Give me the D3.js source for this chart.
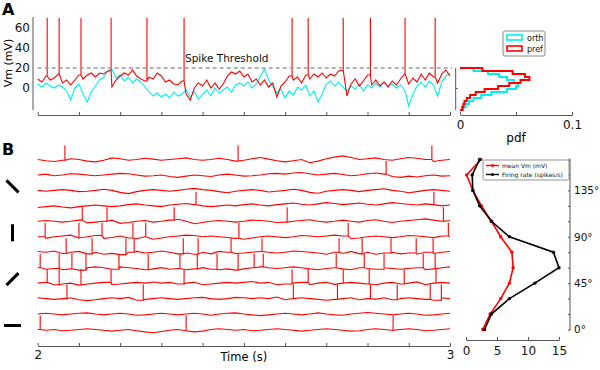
<!DOCTYPE html>
<html><head><meta charset="utf-8">
<script src="https://cdn.jsdelivr.net/npm/d3@7"></script>
<style>body{margin:0;background:#fff}svg{display:block;font-family:"DejaVu Sans",sans-serif}</style>
</head><body><svg id="c" width="600" height="370"></svg>
<script>
// ---------- Panel A data (time 0..1 s, 101 samples) ----------
const vmPref = [9,6,12,8,10,14,5,8,3,8, 13,9,13,15,11,15,14,17,1,8, 12,15,13,18,12,9,7,11,9,15,
  12,6,8,4,3,7,-6,-12,0,5, 2,8,0,5,-1,4,12,16,14,17, 11,14,6,9,3,8,1,5,-9,2,
  6,12,8,11,5,13,9,14,11,15, 10,14,12,17,18,-8,4,9,2,7, 13,3,8,2,6,1,7,3,9,14,
  4,10,6,14,8,15,11,5,14,18, 12];
const vmOrth = [4,1,5,2,0,3,1,-3,-12,0, 4,-6,-14,-4,2,8,11,17,19,10, 13,7,11,5,9,6,1,-4,-8,-5,
  -9,-6,-10,-4,-8,-6,-2,-9,-4,-11, -6,-2,-8,0,-5,-2,1,-4,3,5, 2,6,0,4,12,19,8,2,-5,-1,
  -10,-3,-7,1,-2,3,-8,-3,-14,-6, 4,7,2,6,1,-3,2,-1,4,-3, 3,0,5,1,6,2,4,0,3,-2,
  -18,-6,2,6,1,7,3,-8,6,12, 15];
const spikeTimesPref = [0.023,0.052,0.105,0.178,0.265,0.355,0.617,0.656,0.741,0.807,0.891,0.964];
const spikePeakA = 70;
const thresholdMv = 20;

// histogram (pdf), bins of 3 mV from 20 down to -22
const histEdges = [20,17,14,11,8,5,2,-1,-4,-7,-10,-13,-16,-19,-22];
const pdfPref = [0.02,0.047,0.058,0.062,0.054,0.044,0.034,0.022,0.014,0.009,0.006,0.004,0.003,0.002];
const pdfOrth = [0.012,0.025,0.035,0.042,0.048,0.052,0.05,0.042,0.028,0.019,0.012,0.008,0.005,0.003];

// ---------- Panel B data ----------
const orientations = [0,15,30,45,60,75,90,105,120,135,150,165];
const meanVm =     [2.7,3.9,5.6,7.0,7.6,7.4,5.6,4.1,2.5,1.1,0.1,2.4];
const firingRate = [3.0,4.1,7.0,11.1,15.0,14.1,7.0,4.1,2.2,1.1,1.0,2.2];

// traces: deviation from rest (mV), 51 samples from 2 s to 3 s
const restB = -60;
const spikePeakB = 35;
const dvB165 = [0,-3,-5,-2,2,0,-4,-6,-2,4, 2,-2,0,3,1,-2,0,2,4,0, -2,0,3,0,-4,-2,2,5,1,-3, -6,-3,0,-8,-4,2,6,9,5,0, 2,4,0,-2,2,5,3,0,-5,-2, 0];
const dvB150 = [0,2,-2,0,3,2,0,-2,0,2, 4,3,0,-3,-2,0,-4,-6,-3,0, -2,-4,0,2,0,-3,-2,0,3,4, 2,5,6,3,0,2,4,1,-2,0, 3,5,2,-4,-6,-3,-5,-2,0,-3, -2];
const dvB135 = [0,-2,0,2,0,-3,-2,0,3,0, -5,-8,-3,0,2,0,-2,0,3,5, 2,0,-3,-6,-2,0,2,0,-4,-2, 0,3,0,-5,-7,-2,0,2,0,-3, 0,2,4,0,-2,-6,-3,0,2,0, -2];
const dvB120 = [-4,-2,0,-3,-5,-2,0,2,0,-2, 0,3,5,2,0,-2,2,4,6,3, 0,-2,0,2,0,3,5,2,0,3, 5,7,4,2,5,8,6,3,5,7, 4,2,5,8,6,4,2,5,3,0, 2];
const dvB105 = [0,2,0,-2,0,3,-4,-2,0,3, -5,-3,0,2,-2,0,3,5,0,-6, -3,0,2,0,-2,0,3,2,0,-3, -2,0,2,4,0,-2,0,3,0,-2, 2,4,0,-3,0,2,4,6,3,0, 2];
const dvB90  = [0,-4,0,2,4,-3,0,3,-4,-2, 2,-3,-5,0,-6,-3,0,2,4,3, 0,2,0,-2,-4,-6,-3,0,2,0, -2,0,3,2,0,2,4,2,-5,-3, 0,2,0,-2,0,3,2,0,-2,2, 0];
const dvB75  = [2,0,3,-3,0,2,-4,0,-5,-3, -6,0,2,-2,0,3,0,-4,-2,-5, 0,-4,2,0,-3,-2,0,2,0,-2, 0,3,2,0,-2,-5,0,-3,2,-4, 0,-5,-2,0,-4,-2,-5,0,-3,0, 2];
const dvB60  = [0,-4,-2,-5,-3,-6,0,2,0,-4, 2,0,-2,-5,-3,0,-4,-2,-5,-3, 0,-4,-5,-3,-6,-3,0,2,0,-2, 0,2,0,-3,-5,-2,0,-3,-5,0, -2,-4,0,-2,-4,-2,0,-5,-3,0, 2];
const dvB45  = [0,2,-4,-2,0,-5,-2,0,2,-4, -2,0,2,0,3,0,2,-2,0,2, -4,-2,0,2,0,2,4,0,2,-4, -2,0,2,-4,0,2,-3,0,2,0, -2,-4,0,2,-2,0,3,-4,0,2, 0];
const dvB30  = [2,0,-2,0,2,-3,-5,-3,0,2, 0,3,-4,-2,0,2,0,-2,0,2, 3,0,-2,0,3,2,0,2,0,4, -3,0,2,0,-2,-4,-2,0,2,-3, 0,-2,2,-3,0,2,0,-2,-4,2, 0];
const dvB15  = [0,2,0,-2,0,2,3,0,-2,0, 2,0,-3,-2,0,2,0,-2,0,2, 0,-3,0,2,3,0,-2,-4,-2,0, 2,0,-2,0,3,0,-2,-3,0,2, 4,2,0,-2,0,2,0,-3,-2,0, 2];
const dvB0   = [0,-2,0,-3,-2,0,2,0,-2,-4, -2,0,-3,-6,-8,-5,-2,0,-3,-6, -4,0,2,0,-2,0,-3,-2,0,2, 0,-2,-4,-2,0,2,0,-2,-4,-3, 0,2,0,-2,0,2,0,-3,-2,0, 2];

const spkB165 = [2.066,2.486,2.956];
const spkB150 = [2.845];
const spkB135 = [];
const spkB120 = [2.384,2.961];
const spkB105 = [2.108,2.168,2.331,2.605,2.984];
const spkB90  = [2.018,2.100,2.156,2.231,2.262,2.488,2.753,2.996];
const spkB75  = [2.069,2.132,2.214,2.234,2.353,2.389,2.469,2.544,2.731,2.787,2.857,2.918,2.959];
const spkB60  = [2.006,2.052,2.083,2.117,2.197,2.268,2.345,2.387,2.435,2.486,2.525,2.547,2.724,2.792,2.840,2.935,2.964];
const spkB45  = [2.023,2.052,2.105,2.178,2.355,2.617,2.656,2.741,2.804,2.889,2.966];
const spkB30  = [2.071,2.256,2.620,2.727,2.807,2.872,2.952,2.979];
const spkB15  = [];
const spkB0   = [2.006,2.360,2.862];

const iconOrientations = [0,45,90,135];
const tuningTicks = [0,15,30,45,60,75,90,105,120,135,150,165];

// ---------- drawing ----------
const svg = d3.select("#c");
const axisCol = "#555";
const RED = "#ff0000", CYAN = "#00f0f0";

function styleAxis(g){
  g.selectAll("path,line").attr("stroke", axisCol).attr("stroke-width",1);
  g.selectAll("text").attr("fill","#111").attr("font-family",'"DejaVu Sans",sans-serif');
  return g;
}

// Panel labels
svg.append("text").attr("x",2).attr("y",15).attr("font-size",16).attr("font-weight","bold").text("A");
svg.append("text").attr("x",2).attr("y",155).attr("font-size",16).attr("font-weight","bold").text("B");

// ---- Panel A ----
const xA = d3.scaleLinear([0,1],[37.7,450]);
const yA = d3.scaleLinear([-22,71],[110,17]);

const gAy = svg.append("g").attr("transform","translate(33,0)")
  .call(d3.axisLeft(yA).tickValues([0,20,40,60]).tickSizeInner(0).tickSizeOuter(0).tickPadding(3));
gAy.select("path").attr("d", `M0,${yA(71)}V${yA(-22)}`);
styleAxis(gAy).selectAll("text").attr("font-size",12);

const gAx = svg.append("g").attr("transform","translate(0,115)")
  .call(d3.axisBottom(xA).tickValues(d3.range(11).map(i=>i/10)).tickSizeInner(-3).tickSizeOuter(0).tickFormat(""));
styleAxis(gAx);

svg.append("text").attr("transform",`translate(12,${yA(25)}) rotate(-90)`).attr("text-anchor","middle")
  .attr("font-size",11).text("Vm (mV)");

const lineA = d3.line().x(d=>xA(d[0])).y(d=>yA(d[1]));
function buildA(vm, spikes){
  const pts=[];
  vm.forEach((v,i)=>{
    const t=i/100;
    pts.push([t,v]);
    spikes.filter(s=>s>=t && s<t+0.01).forEach(s=>{ pts.push([s,v],[s,spikePeakA],[s,v]); });
  });
  return pts;
}
svg.append("path").attr("d", lineA(buildA(vmOrth, []))).attr("fill","none").attr("stroke",CYAN).attr("stroke-width",1.1);
svg.append("path").attr("d", lineA(buildA(vmPref, spikeTimesPref))).attr("fill","none").attr("stroke",RED).attr("stroke-width",1.1);

svg.append("line").attr("x1",xA(0)).attr("x2",xA(1)+2).attr("y1",yA(thresholdMv)).attr("y2",yA(thresholdMv))
  .attr("stroke","#999").attr("stroke-width",1.3).attr("stroke-dasharray","4,3");
svg.append("text").attr("x",185).attr("y",62).attr("font-size",10.5).attr("fill","#111").text("Spike Threshold");

// ---- Histogram ----
const xH = d3.scaleLinear([0,0.1],[460,572]);
const gHy = svg.append("g").attr("transform","translate(455.7,0)")
  .call(d3.axisLeft(yA).tickValues([0]).tickSizeInner(-2).tickSizeOuter(0).tickFormat(""));
gHy.select("path").attr("d", `M0,${yA(20)}V${yA(-22)}`);
styleAxis(gHy);
const gHx = svg.append("g").attr("transform","translate(0,115)")
  .call(d3.axisBottom(xH).tickValues([0,0.05,0.1]).tickSizeInner(-3).tickSizeOuter(0).tickPadding(5)
  .tickFormat(d=> d===0?"0":(d===0.1?"0.1":"")));
styleAxis(gHx).selectAll("text").attr("font-size",12);
svg.append("text").attr("x",xH(0.05)).attr("y",142).attr("text-anchor","middle").attr("font-size",12).text("pdf");

function histPts(p){
  const pts=[[0,histEdges[0]]];
  p.forEach((v,i)=>{ pts.push([v,histEdges[i]],[v,histEdges[i+1]]); });
  pts.push([0,histEdges[histEdges.length-1]]);
  return pts;
}
const lineH = d3.line().x(d=>xH(d[0])).y(d=>yA(d[1]));
svg.append("path").attr("d",lineH(histPts(pdfOrth))).attr("fill","none").attr("stroke",CYAN).attr("stroke-width",2);
svg.append("path").attr("d",lineH(histPts(pdfPref))).attr("fill","none").attr("stroke",RED).attr("stroke-width",2);

// Legend A
const lgA = svg.append("g").attr("transform","translate(503,31)");
lgA.append("rect").attr("width",42).attr("height",25).attr("rx",2).attr("fill","#fff").attr("stroke","#888");
[["orth",CYAN],["pref",RED]].forEach(([lab,col],i)=>{
  lgA.append("rect").attr("x",4).attr("y",4+i*11).attr("width",15).attr("height",5).attr("fill","none").attr("stroke",col).attr("stroke-width",1.6);
  lgA.append("text").attr("x",24).attr("y",10+i*11).attr("font-size",8).attr("fill","#111").text(lab);
});

// ---- Panel B traces ----
const xB = d3.scaleLinear([2,3],[37.7,450]);
const yO = d3.scaleLinear([0,165],[329.5,159.5]);
const bScale = 0.4;
const bTraces = [
  {ori:0,dv:dvB0,spk:spkB0},{ori:15,dv:dvB15,spk:spkB15},{ori:30,dv:dvB30,spk:spkB30},
  {ori:45,dv:dvB45,spk:spkB45},{ori:60,dv:dvB60,spk:spkB60},{ori:75,dv:dvB75,spk:spkB75},
  {ori:90,dv:dvB90,spk:spkB90},{ori:105,dv:dvB105,spk:spkB105},{ori:120,dv:dvB120,spk:spkB120},
  {ori:135,dv:dvB135,spk:spkB135},{ori:150,dv:dvB150,spk:spkB150},{ori:165,dv:dvB165,spk:spkB165}
];
bTraces.forEach(tr=>{
  const pts=[];
  tr.dv.forEach((v,i)=>{
    const t=2+i*0.02;
    pts.push([t,v]);
    tr.spk.filter(s=>s>=t && s<t+0.02).forEach(s=>{ pts.push([s,v],[s,spikePeakB],[s,v]); });
  });
  const base = yO(tr.ori);
  const ln = d3.line().x(d=>xB(d[0])).y(d=>base - d[1]*bScale);
  svg.append("path").attr("d",ln(pts)).attr("fill","none").attr("stroke",RED).attr("stroke-width",1.1);
});

const gBx = svg.append("g").attr("transform","translate(0,346)")
  .call(d3.axisBottom(xB).tickValues(d3.range(11).map(i=>2+i/10)).tickSizeInner(-3).tickSizeOuter(0).tickPadding(4)
  .tickFormat(d=> Math.abs(d-2)<1e-9?"2":(Math.abs(d-3)<1e-9?"3":"")));
styleAxis(gBx).selectAll("text").attr("font-size",12);
svg.append("text").attr("x",xB(2.5)).attr("y",361).attr("text-anchor","middle").attr("font-size",11.5).text("Time (s)");

// orientation icons
iconOrientations.forEach(o=>{
  const r=o*Math.PI/180, L=8.5, cx=12.5, cy=yO(o)-4;
  svg.append("line").attr("x1",cx-L*Math.cos(r)).attr("y1",cy+L*Math.sin(r))
    .attr("x2",cx+L*Math.cos(r)).attr("y2",cy-L*Math.sin(r))
    .attr("stroke","#000").attr("stroke-width",3);
});

// ---- Tuning curve ----
const xT = d3.scaleLinear([0,15],[466,559]);
const gTy = svg.append("g").attr("transform","translate(570,0)")
  .call(d3.axisRight(yO).tickValues(tuningTicks).tickSizeInner(-2).tickSizeOuter(0).tickPadding(4)
  .tickFormat(d=> d%45===0 ? d+"°" : ""));
gTy.select("path").attr("d", `M0,${yO(166)}V${yO(-1)}`);
styleAxis(gTy).selectAll("text").attr("font-size",10.5);
const gTx = svg.append("g").attr("transform","translate(0,340)")
  .call(d3.axisBottom(xT).tickValues([0,5,10,15]).tickSizeInner(-3).tickSizeOuter(0).tickPadding(6));
styleAxis(gTx).selectAll("text").attr("font-size",12);

function tuning(vals,col){
  const pts = orientations.map((o,i)=>[vals[i],o]);
  svg.append("path").attr("d",d3.line().x(d=>xT(d[0])).y(d=>yO(d[1]))(pts))
    .attr("fill","none").attr("stroke",col).attr("stroke-width",1.6);
  svg.selectAll(null).data(pts).enter().append("circle")
    .attr("cx",d=>xT(d[0])).attr("cy",d=>yO(d[1])).attr("r",1.7).attr("fill",col);
}
tuning(meanVm,RED);
tuning(firingRate,"#000");

const lgB = svg.append("g").attr("transform","translate(483,160)");
lgB.append("rect").attr("width",86).attr("height",20).attr("rx",1.5).attr("fill","#fff").attr("stroke","#777").attr("stroke-width",0.8);
[["mean Vm (mV)",RED],["Firing rate (spikes/s)","#000"]].forEach(([lab,col],i)=>{
  const y=5.5+i*9;
  lgB.append("line").attr("x1",3).attr("x2",16).attr("y1",y).attr("y2",y).attr("stroke",col).attr("stroke-width",1.4);
  lgB.append("circle").attr("cx",9.5).attr("cy",y).attr("r",1.5).attr("fill",col);
  lgB.append("text").attr("x",19).attr("y",y+2.2).attr("font-size",6).attr("fill","#111").text(lab);
});
</script></body></html>
